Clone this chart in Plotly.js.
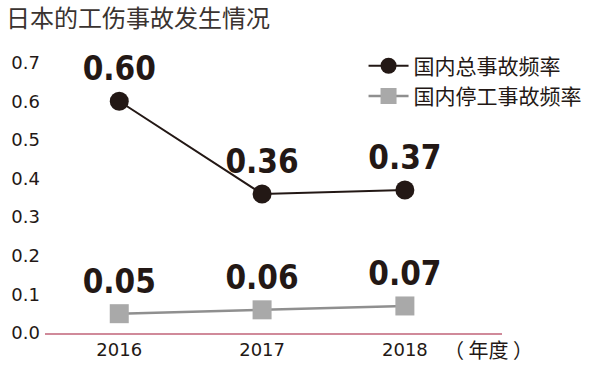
<!DOCTYPE html>
<html><head><meta charset="utf-8">
<script src="https://cdn.plot.ly/plotly-3.0.1.min.js"></script>
<style>html,body{margin:0;padding:0;background:#fff}#chart{width:600px;height:369px}</style>
</head><body><div id="chart"></div>
<script>
const years = ['2016', '2017', '2018'];
const totalRate = [0.60, 0.36, 0.37];
const lostTimeRate = [0.05, 0.06, 0.07];
const totalLabels = ['0.60', '0.36', '0.37'];
const lostTimeLabels = ['0.05', '0.06', '0.07'];
const yTicks = [0, 0.1, 0.2, 0.3, 0.4, 0.5, 0.6, 0.7];
const yTickText = ['0.0', '0.1', '0.2', '0.3', '0.4', '0.5', '0.6', '0.7'];
const seriesNames = ['国内总事故频率', '国内停工事故频率'];

const numFont = 'DejaVu Sans Condensed, DejaVu Sans, sans-serif';
const cjkFont = 'Noto Sans CJK SC, sans-serif';
const ink = '#231815';

const traces = [
  {
    x: years, y: totalRate, name: seriesNames[0], type: 'scatter', mode: 'lines+markers+text',
    line: {color: ink, width: 2},
    marker: {color: ink, size: 19, symbol: 'circle'},
    text: totalLabels, textposition: 'top center',
    textfont: {family: numFont, size: 33, color: ink, weight: 'bold'},
    cliponaxis: false
  },
  {
    x: years, y: lostTimeRate, name: seriesNames[1], type: 'scatter', mode: 'lines+markers+text',
    line: {color: '#8f8f8f', width: 2.5},
    marker: {color: '#a9a9a9', size: 19, symbol: 'square'},
    text: lostTimeLabels, textposition: 'top center',
    textfont: {family: numFont, size: 33, color: ink, weight: 'bold'},
    cliponaxis: false
  }
];

const layout = {
  width: 600, height: 369,
  margin: {l: 45, r: 98, t: 24, b: 36},
  paper_bgcolor: '#fff', plot_bgcolor: '#fff',
  showlegend: true,
  legend: {
    x: 1.185, xanchor: 'right', y: 0.93, yanchor: 'top',
    font: {family: cjkFont, size: 21, color: ink},
    bgcolor: 'rgba(0,0,0,0)', tracegroupgap: 0, itemwidth: 40
  },
  title: {
    text: '日本的工伤事故发生情况',
    font: {family: cjkFont, size: 24, color: '#3a3330'},
    x: 0.01, xanchor: 'left', xref: 'container', y: 0.95, yanchor: 'middle', yref: 'container'
  },
  xaxis: {
    type: 'category', range: [-0.52, 2.68],
    showgrid: false, zeroline: false,
    showline: true, linecolor: '#d08a9a', linewidth: 1.5,
    ticks: '', tickfont: {family: 'DejaVu Sans, sans-serif', size: 18, color: ink},
    fixedrange: true
  },
  yaxis: {
    range: [0, 0.8], showgrid: false, zeroline: false, showline: false,
    tickvals: yTicks, ticktext: yTickText, ticks: '',
    tickfont: {family: 'DejaVu Sans, sans-serif', size: 18, color: ink},
    ticklabelstandoff: 4,
    fixedrange: true
  },
  annotations: [
    {text: '（ 年度 ）', xref: 'paper', yref: 'paper', x: 0.97, y: -0.055,
     xanchor: 'center', yanchor: 'middle', showarrow: false,
     font: {family: cjkFont, size: 20, color: ink}}
  ]
};

Plotly.newPlot('chart', traces, layout, {displayModeBar: false, staticPlot: true});
</script></body></html>
